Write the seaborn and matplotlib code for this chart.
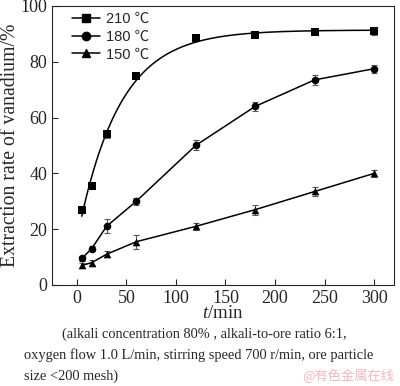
import numpy as np
import pandas as pd
import matplotlib
matplotlib.use("Agg")
import matplotlib.pyplot as plt
import seaborn as sns

t = [5, 15, 30, 60, 120, 180, 240, 300]
r210 = [27, 35.5, 54, 75, 88.5, 89.5, 90.5, 91]
r180 = [9.5, 13, 21, 30, 50, 64, 73.5, 77.5]
r150 = [7, 8, 11, 15.5, 21, 27, 33.5, 40]
e210 = [0.5, 1.0, 1.2, 0.6, 0.8, 0.6, 0.8, 1.5]
e180 = [1.0, 0.8, 2.5, 1.2, 1.8, 1.5, 1.8, 1.5]
e150 = [1.0, 0.8, 1.0, 2.5, 1.2, 1.8, 1.5, 1.2]
labels = ["210 \u2103", "180 \u2103", "150 \u2103"]

sns.set_style("ticks")
plt.rcParams["font.family"] = ["Liberation Serif", "DejaVu Serif"]
plt.rcParams["mathtext.fontset"] = "custom"
plt.rcParams["mathtext.it"] = "Liberation Serif:italic"
plt.rcParams["mathtext.rm"] = "Liberation Serif"

fig = plt.figure(figsize=(4, 3.86), dpi=100)
ax = fig.add_axes([0.13, 0.2617, 0.855, 0.723])

# exponential saturation fit for 210 C
tt = np.array(t, float)
yy = np.array(r210, float)
best = None
for k in np.linspace(0.005, 0.1, 400):
    X = np.column_stack([np.ones_like(tt), np.exp(-k * tt)])
    coef, res, _, _ = np.linalg.lstsq(X, yy, rcond=None)
    err = np.sum((X @ coef - yy) ** 2)
    if best is None or err < best[0]:
        best = (err, k, coef)
_, k, coef = best
tf = np.linspace(5, 300, 300)
fit = pd.DataFrame({"t": tf, "y": coef[0] + coef[1] * np.exp(-k * tf)})
sns.lineplot(data=fit, x="t", y="y", ax=ax, color="black", lw=1.1)

series = [(r210, e210, "s"), (r180, e180, "o"), (r150, e150, "^")]
handles = []
for i, (r, e, m) in enumerate(series):
    df = pd.DataFrame({"t": t, "y": r})
    if i > 0:
        sns.lineplot(data=df, x="t", y="y", ax=ax, color="black", lw=1.1)
    ax.errorbar(t, r, yerr=e, fmt="none", ecolor="#555555", elinewidth=0.8,
                capsize=2.5, capthick=0.8)
    sns.scatterplot(data=df, x="t", y="y", ax=ax, marker=m, color="black",
                    s=30, edgecolor="black", linewidth=0, zorder=5)
    h, = ax.plot([], [], color="black", marker=m, ms=6, lw=1.1)
    handles.append(h)

leg = ax.legend(handles, labels, loc="upper left", frameon=False,
                bbox_to_anchor=(0.02, 1.025), handlelength=1.9,
                handletextpad=0.4,
                prop={"family": ["Liberation Sans", "Noto Sans CJK SC"], "size": 10.5},
                labelspacing=0.25)

ax.set_xlim(-25, 320)
ax.set_ylim(0, 100)
ax.set_xticks([0, 50, 100, 150, 200, 250, 300])
ax.set_yticks([0, 20, 40, 60, 80, 100])
ax.tick_params(direction="in", labelsize=13, length=4, width=0.8,
               top=False, right=False)
for s in ax.spines.values():
    s.set_linewidth(0.8)
ax.set_xlabel("$t$/min", fontsize=13.5, labelpad=-1)
ax.set_ylabel("Extraction rate of vanadium/%", fontsize=14.2, labelpad=0)

fig.text(0.155, 0.125, "(alkali concentration 80% , alkali-to-ore ratio 6:1,",
         ha="left", fontsize=10.4)
fig.text(0.06, 0.07, "oxygen flow 1.0 L/min, stirring speed 700 r/min, ore particle",
         ha="left", fontsize=10.4)
fig.text(0.06, 0.015, "size <200 mesh)", ha="left", fontsize=10.4)
fig.text(0.985, 0.015, "@有色金属在线", ha="right", fontsize=9.5,
         color="#f4b8b8", family=["Noto Sans CJK SC", "DejaVu Sans"])

fig.savefig("out.png", dpi=100)
